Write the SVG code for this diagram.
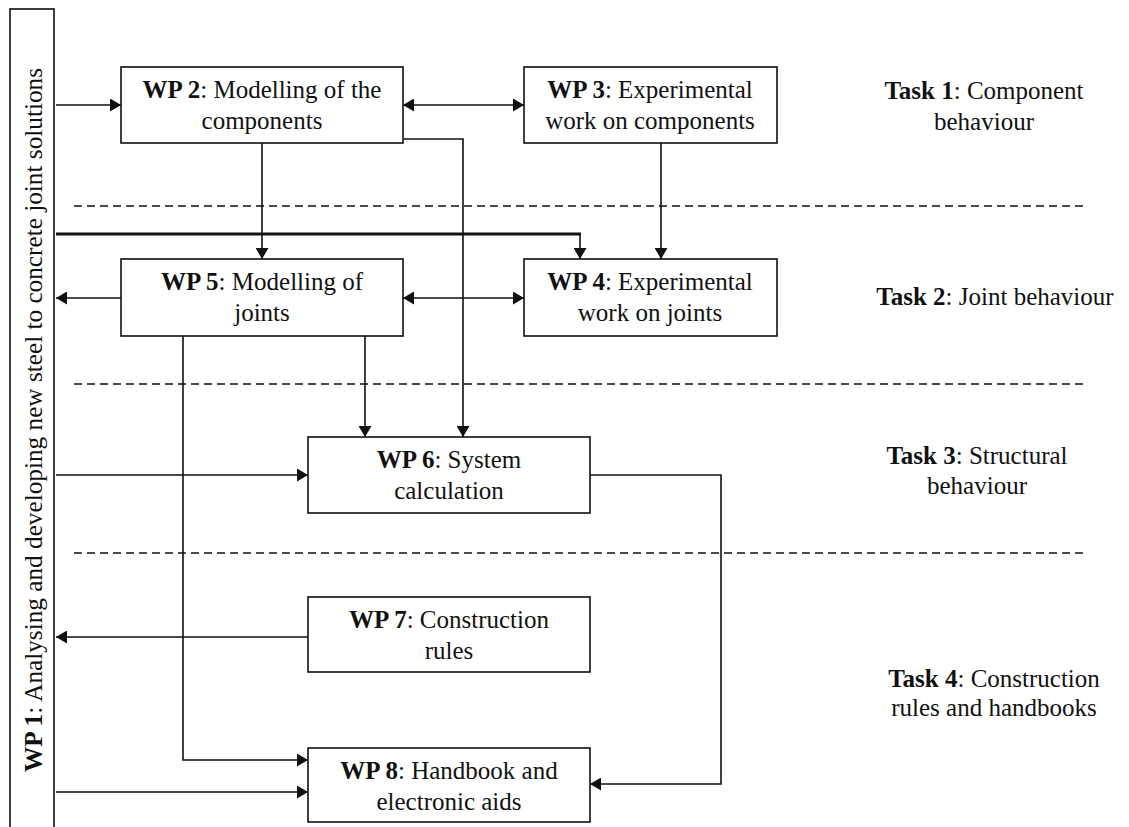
<svg xmlns="http://www.w3.org/2000/svg" width="1129" height="827" viewBox="0 0 1129 827">
<style>
text{font-family:"Liberation Serif","Times New Roman",serif;font-size:25px;fill:#111}
.b{font-weight:bold}
.box{fill:#fff;stroke:#111;stroke-width:1.6}
.ln{fill:none;stroke:#111;stroke-width:1.6}
.thick{fill:none;stroke:#111;stroke-width:3.2}
.dash{fill:none;stroke:#111;stroke-width:1.6;stroke-dasharray:8 5}
</style>
<defs>
<marker id="ah" viewBox="0 0 11 13" refX="11" refY="6.5" markerWidth="11" markerHeight="13" markerUnits="userSpaceOnUse" orient="auto-start-reverse">
<path d="M0,0 L11,6.5 L0,13 z" fill="#111"/>
</marker>
</defs>
<rect width="1129" height="827" fill="#fff"/>
<g id="separators">
<line class="dash" x1="74" y1="206" x2="1083" y2="206"/>
<line class="dash" x1="74" y1="384" x2="1083" y2="384"/>
<line class="dash" x1="74" y1="553" x2="1083" y2="553"/>
</g>
<g id="connectors">
<line class="ln" x1="56" y1="105" x2="121" y2="105" marker-end="url(#ah)"/>
<line class="ln" x1="403" y1="105" x2="524" y2="105" marker-start="url(#ah)" marker-end="url(#ah)"/>
<line class="ln" x1="262" y1="143" x2="262" y2="259" marker-end="url(#ah)"/>
<polyline class="ln" points="403,139 463,139 463,437" marker-end="url(#ah)"/>
<line class="ln" x1="661" y1="143" x2="661" y2="259" marker-end="url(#ah)"/>
<line class="thick" x1="56" y1="234" x2="581" y2="234"/>
<line class="ln" x1="580" y1="234" x2="580" y2="259" marker-end="url(#ah)"/>
<line class="ln" x1="403" y1="298" x2="524" y2="298" marker-start="url(#ah)" marker-end="url(#ah)"/>
<line class="ln" x1="121" y1="298" x2="56" y2="298" marker-end="url(#ah)"/>
<line class="ln" x1="365" y1="336" x2="365" y2="437" marker-end="url(#ah)"/>
<polyline class="ln" points="183,336 183,760 308,760" marker-end="url(#ah)"/>
<line class="ln" x1="56" y1="475" x2="308" y2="475" marker-end="url(#ah)"/>
<polyline class="ln" points="590,475 721,475 721,784 590,784" marker-end="url(#ah)"/>
<line class="ln" x1="308" y1="637" x2="56" y2="637" marker-end="url(#ah)"/>
<line class="ln" x1="56" y1="792" x2="308" y2="792" marker-end="url(#ah)"/>
</g>
<g id="wp1">
<rect class="box" x="10" y="9" width="44" height="830"/>
<text transform="translate(42,420) rotate(-90)" text-anchor="middle" textLength="704" lengthAdjust="spacingAndGlyphs"><tspan class="b">WP 1</tspan>: Analysing and developing new steel to concrete joint solutions</text>
</g>
<g id="wp2">
<rect class="box" x="121" y="67" width="282" height="76"/>
<text x="262" y="98" text-anchor="middle"><tspan class="b">WP 2</tspan>: Modelling of the</text>
<text x="262" y="129" text-anchor="middle">components</text>
</g>
<g id="wp3">
<rect class="box" x="524" y="67" width="253" height="76"/>
<text x="650" y="98" text-anchor="middle"><tspan class="b">WP 3</tspan>: Experimental</text>
<text x="650" y="129" text-anchor="middle">work on components</text>
</g>
<g id="wp5">
<rect class="box" x="121" y="259" width="282" height="77"/>
<text x="262" y="290" text-anchor="middle"><tspan class="b">WP 5</tspan>: Modelling of</text>
<text x="262" y="321" text-anchor="middle">joints</text>
</g>
<g id="wp4">
<rect class="box" x="524" y="259" width="253" height="77"/>
<text x="650" y="290" text-anchor="middle"><tspan class="b">WP 4</tspan>: Experimental</text>
<text x="650" y="321" text-anchor="middle">work on joints</text>
</g>
<g id="wp6">
<rect class="box" x="308" y="437" width="282" height="76"/>
<text x="449" y="468" text-anchor="middle"><tspan class="b">WP 6</tspan>: System</text>
<text x="449" y="499" text-anchor="middle">calculation</text>
</g>
<g id="wp7">
<rect class="box" x="308" y="597" width="282" height="75"/>
<text x="449" y="628" text-anchor="middle"><tspan class="b">WP 7</tspan>: Construction</text>
<text x="449" y="659" text-anchor="middle">rules</text>
</g>
<g id="wp8">
<rect class="box" x="308" y="748" width="282" height="74"/>
<text x="449" y="779" text-anchor="middle"><tspan class="b">WP 8</tspan>: Handbook and</text>
<text x="449" y="810" text-anchor="middle">electronic aids</text>
</g>
<g id="task1">
<text x="984" y="99" text-anchor="middle"><tspan class="b">Task 1</tspan>: Component</text>
<text x="984" y="130" text-anchor="middle">behaviour</text>
</g>
<g id="task2">
<text x="995" y="305" text-anchor="middle"><tspan class="b">Task 2</tspan>: Joint behaviour</text>
</g>
<g id="task3">
<text x="977" y="464" text-anchor="middle"><tspan class="b">Task 3</tspan>: Structural</text>
<text x="977" y="494" text-anchor="middle">behaviour</text>
</g>
<g id="task4">
<text x="994" y="687" text-anchor="middle"><tspan class="b">Task 4</tspan>: Construction</text>
<text x="994" y="716" text-anchor="middle">rules and handbooks</text>
</g>
</svg>
